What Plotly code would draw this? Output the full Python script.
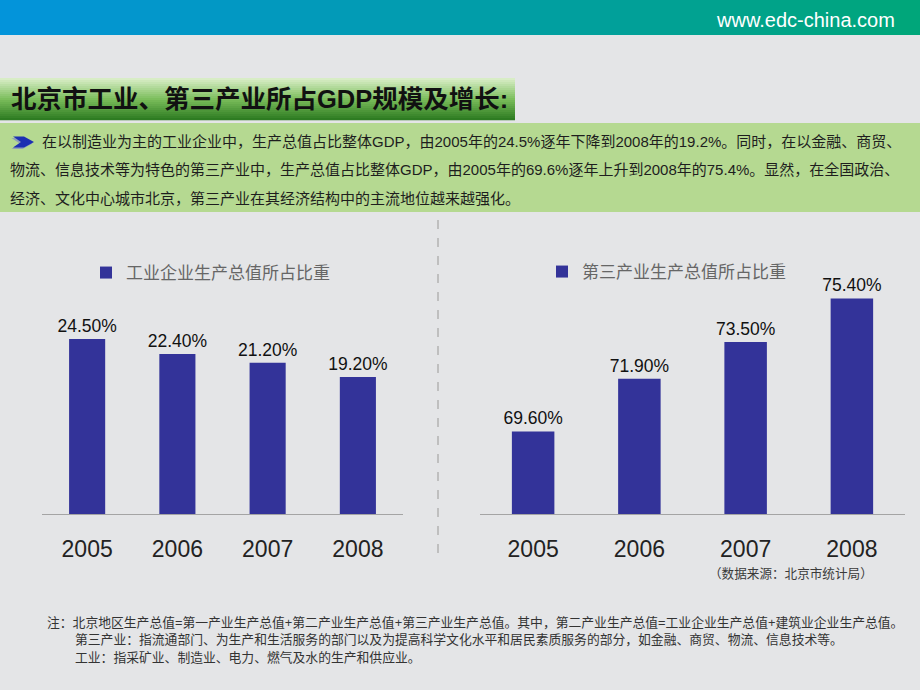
import plotly.graph_objects as go

# ---------------- data ----------------
years = ["2005", "2006", "2007", "2008"]
industry_share = [24.5, 22.4, 21.2, 19.2]      # 工业企业生产总值所占比重 (%)
tertiary_share = [69.6, 71.9, 73.5, 75.4]      # 第三产业生产总值所占比重 (%)
industry_name = "工业企业生产总值所占比重"
tertiary_name = "第三产业生产总值所占比重"

title_text = "北京市工业、第三产业所占GDP规模及增长:"
intro_lines = [
    "在以制造业为主的工业企业中，生产总值占比整体GDP，由2005年的24.5%逐年下降到2008年的19.2%。同时，在以金融、商贸、",
    "物流、信息技术等为特色的第三产业中，生产总值占比整体GDP，由2005年的69.6%逐年上升到2008年的75.4%。显然，在全国政治、",
    "经济、文化中心城市北京，第三产业在其经济结构中的主流地位越来越强化。",
]
source_text = "（数据来源：北京市统计局）"
note_lines = [
    "注：北京地区生产总值=第一产业生产总值+第二产业生产总值+第三产业生产总值。其中，第二产业生产总值=工业企业生产总值+建筑业企业生产总值。",
    "第三产业：指流通部门、为生产和生活服务的部门以及为提高科学文化水平和居民素质服务的部分，如金融、商贸、物流、信息技术等。",
    "工业：指采矿业、制造业、电力、燃气及水的生产和供应业。",
]
site_text = "www.edc-china.com"

# ---------------- helpers ----------------
W, H = 920, 690
def px(x):
    return x / W
def py(y):
    return 1 - y / H

def lerp(c1, c2, t):
    return tuple(round(a + (b - a) * t) for a, b in zip(c1, c2))

def rgb(c):
    return "rgb(%d,%d,%d)" % c

CJK = "Liberation Sans, Arial, Noto Sans CJK SC, sans-serif"
BAR = "#333399"

shapes = []
# header gradient band
n = 46
for i in range(n):
    c = lerp((3, 148, 218), (0, 166, 122), i / (n - 1))
    shapes.append(dict(type="rect", xref="paper", yref="paper",
                       x0=px(i * 20), x1=px(i * 20 + 21), y0=py(35), y1=py(0),
                       fillcolor=rgb(c), line=dict(width=0), layer="below"))
# title bar vertical gradient
top, mid, bot = (216, 237, 198), (124, 190, 92), (46, 124, 34)
m = 21
for i in range(m):
    t = i / (m - 1)
    c = lerp(top, mid, t * 2) if t < 0.5 else lerp(mid, bot, (t - 0.5) * 2)
    y0 = 78 + i * 2
    shapes.append(dict(type="rect", xref="paper", yref="paper",
                       x0=px(0), x1=px(515), y0=py(y0 + 2.2), y1=py(y0),
                       fillcolor=rgb(c), line=dict(width=0), layer="below"))
# intro text box
shapes.append(dict(type="rect", xref="paper", yref="paper",
                   x0=px(0), x1=px(920), y0=py(212), y1=py(123),
                   fillcolor="#b5d991", line=dict(width=0), layer="below"))
# chevron icon (shadow + blue)
def chevron(dx, dy):
    pts = [(13, 136.5), (24, 136.5), (34, 142), (24, 147.5), (13, 147.5), (21, 142)]
    return "M " + " L ".join("%f,%f" % (px(x + dx), py(y + dy)) for x, y in pts) + " Z"
shapes.append(dict(type="path", xref="paper", yref="paper", path=chevron(-1.5, 1.5),
                   fillcolor="#8f9fb8", line=dict(width=0), layer="below"))
shapes.append(dict(type="path", xref="paper", yref="paper", path=chevron(0, 0),
                   fillcolor="#1c2fb2", line=dict(width=0), layer="below"))
# dashed divider
shapes.append(dict(type="line", xref="paper", yref="paper",
                   x0=px(438), x1=px(438), y0=py(220), y1=py(558),
                   line=dict(color="#b3b3b3", width=1.5, dash="dash"), layer="below"))

annotations = []
annotations.append(dict(xref="paper", yref="paper", x=px(897), y=py(20),
                        xanchor="right", yanchor="middle", showarrow=False,
                        text=site_text,
                        font=dict(family="Liberation Sans, Arial, sans-serif",
                                  size=20, color="white")))
annotations.append(dict(xref="paper", yref="paper", x=px(9), y=py(99),
                        xanchor="left", yanchor="middle", showarrow=False,
                        text="<b>" + title_text + "</b>",
                        font=dict(family=CJK, size=25.5, color="#111111")))
for i, line in enumerate(intro_lines):
    annotations.append(dict(xref="paper", yref="paper", x=px(40 if i == 0 else 8), y=py(141 + i * 28.8),
                            xanchor="left", yanchor="middle", showarrow=False,
                            text=line, font=dict(family=CJK, size=15, color="#1e1e1e")))
annotations.append(dict(xref="paper", yref="paper", x=px(875), y=py(573),
                        xanchor="right", yanchor="middle", showarrow=False,
                        text=source_text, font=dict(family=CJK, size=12.6, color="#3a3a3a")))
for i, line in enumerate(note_lines):
    annotations.append(dict(xref="paper", yref="paper", x=px(45 if i == 0 else 73), y=py(622 + i * 17.5),
                            xanchor="left", yanchor="middle", showarrow=False,
                            text=line, font=dict(family=CJK, size=12.8, color="#333333")))

labfont = dict(family="Liberation Sans, Arial, sans-serif", size=17.5, color="#111111")
fig = go.Figure()
fig.add_trace(go.Bar(x=years, y=industry_share, name=industry_name,
                     marker=dict(color=BAR, line=dict(width=0)),
                     texttemplate="%{y:.2f}%", textposition="outside", constraintext="none",
                     textfont=labfont, cliponaxis=False,
                     xaxis="x", yaxis="y", legend="legend", hoverinfo="skip"))
fig.add_trace(go.Bar(x=years, y=tertiary_share, name=tertiary_name,
                     marker=dict(color=BAR, line=dict(width=0)),
                     texttemplate="%{y:.2f}%", textposition="outside", constraintext="none",
                     textfont=labfont,
                     xaxis="x2", yaxis="y2", legend="legend2", hoverinfo="skip"))

y_bottom, y_top = py(514), py(250)
xcommon = dict(type="category", showline=True, linecolor="#a4a4a4", linewidth=1,
               ticks="", showgrid=False, zeroline=False,
               tickfont=dict(family="Liberation Sans, Arial, sans-serif", size=23, color="#222222"),
               ticklabelstandoff=14, fixedrange=True)
ycommon = dict(showgrid=False, zeroline=False, showticklabels=False, showline=False,
               ticks="", fixedrange=True)

legfont = dict(family="Noto Sans CJK SC, sans-serif", size=17, color="#666666")
fig.update_layout(
    width=W, height=H,
    margin=dict(l=0, r=0, t=0, b=0),
    paper_bgcolor="#e4e5e7", plot_bgcolor="rgba(0,0,0,0)",
    bargap=0.6,
    xaxis=dict(domain=[px(42), px(403)], anchor="y", **xcommon),
    yaxis=dict(domain=[y_bottom, y_top], range=[0, 264 / 7.14], anchor="x", **ycommon),
    xaxis2=dict(domain=[px(480), px(905)], anchor="y2", **xcommon),
    yaxis2=dict(domain=[y_bottom, y_top], range=[66, 66 + 264 / 22.93], anchor="x2", **ycommon),
    legend=dict(x=px(86), y=py(273), xanchor="left", yanchor="middle",
                bgcolor="rgba(0,0,0,0)", font=legfont),
    legend2=dict(x=px(542), y=py(272), xanchor="left", yanchor="middle",
                 bgcolor="rgba(0,0,0,0)", font=legfont),
    showlegend=True,
    shapes=shapes,
    annotations=annotations,
)

fig.write_html("out.html", config={"displayModeBar": False},
               post_script="document.body.style.margin='0';document.body.style.padding='0';")
